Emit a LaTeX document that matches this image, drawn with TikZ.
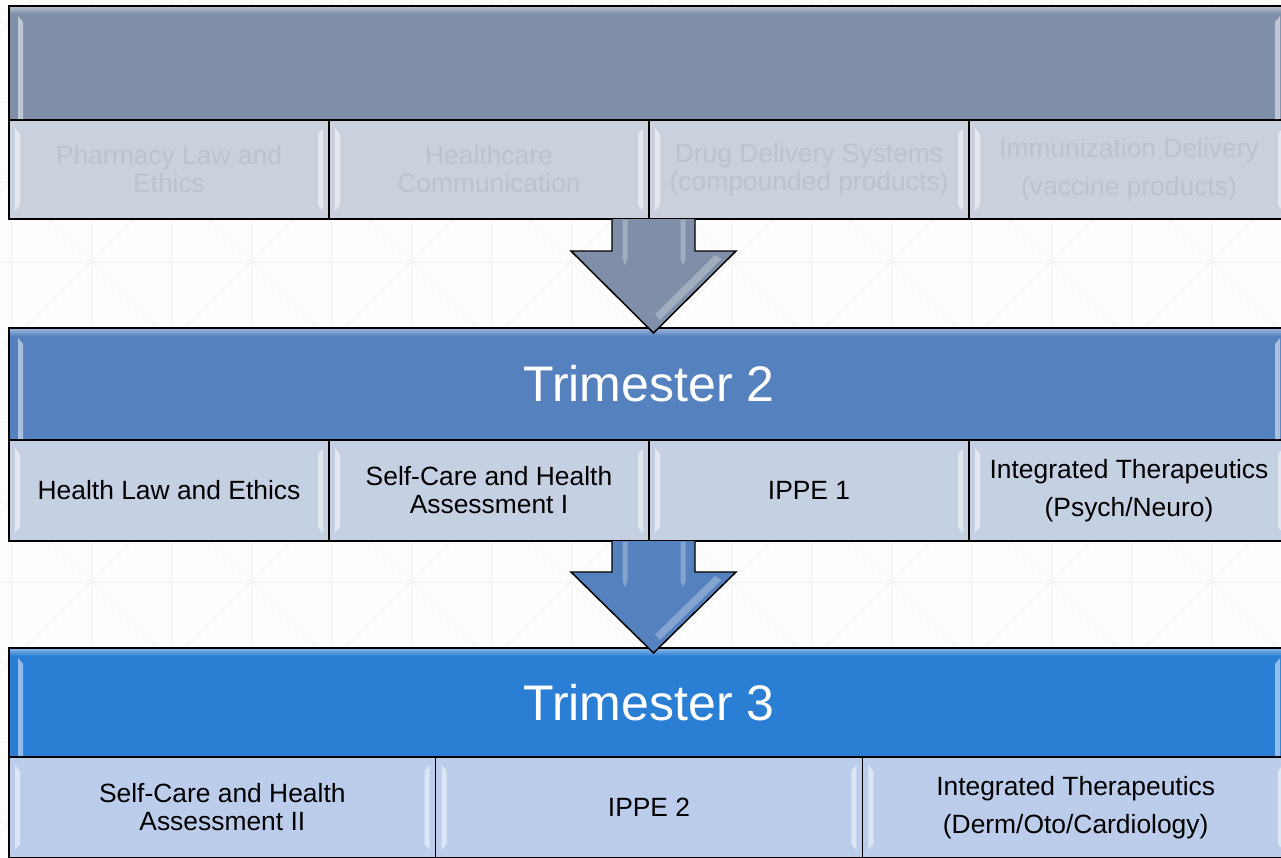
\documentclass[tikz,border=0pt]{standalone}
\usepackage{fontspec}
\setmainfont{Liberation Sans}
\usetikzlibrary{calc}
\definecolor{bgc}{HTML}{FDFDFD}
\definecolor{patc}{HTML}{F2F2F2}
\definecolor{hdrA}{HTML}{7F8EA9}
\definecolor{cellA}{HTML}{CAD0DC}
\definecolor{txtA}{HTML}{BCC3CF}
\definecolor{hdrB}{HTML}{5582BE}
\definecolor{cellB}{HTML}{C6D0E3}
\definecolor{hdrC}{HTML}{2A7ED3}
\definecolor{cellC}{HTML}{BBCDEA}
\tikzset{
  box/.style={draw=black, line width=1.1pt, rectangle, inner sep=0pt, outer sep=0pt, anchor=north west, align=center},
  hdr/.style={box, minimum width=960pt, text=white, font=\fontsize{37.5}{40}\selectfont},
  cell/.style={box, font=\fontsize{19.8}{21}\selectfont},
  wide/.style={font=\fontsize{19.8}{28.5}\selectfont},
  bevel/.style={fill=white, fill opacity=0.5},
  blockarrow/.style={draw=black, line width=1.1pt, line join=miter},
  shine/.style={fill=white, fill opacity=0.28},
  patline/.style={draw=patc, line width=0.75pt},
}
\begin{document}
\begin{tikzpicture}[x=0.75pt, y=-0.75pt]
\useasboundingbox (0,0) rectangle (1281,857);
\clip (0,0) rectangle (1281,857);
% background
\fill[bgc] (0,0) rectangle (1281,857);
\foreach \i in {0,...,16} \path[patline] ({11+80*\i},0) -- ({11+80*\i},857);
\foreach \j in {0,...,10} \path[patline] (0,{22+80*\j}) -- (1281,{22+80*\j});
\foreach \m in {-6,...,10} \path[patline] ({-171+160*\m},0) -- ({-171+160*\m+857},857);
\foreach \n in {-3,...,12} \path[patline] ({353+160*\n},0) -- ({353+160*\n-857},857);

% band 1
\node[hdr, fill=hdrA, minimum height=85.5pt] (h1) at (9,6) {};
\node[cell, fill=cellA, text=txtA, minimum width=240pt, minimum height=74.25pt] (c11) at (9,120) {Pharmacy Law and\\Ethics};
\node[cell, fill=cellA, text=txtA, minimum width=240pt, minimum height=74.25pt] (c12) at (329,120) {Healthcare\\Communication};
\node[cell, fill=cellA, text=txtA, minimum width=240pt, minimum height=74.25pt] (c13) at (649,120) {Drug Delivery Systems\\(compounded products)};
\node[cell, wide, fill=cellA, text=txtA, minimum width=240pt, minimum height=74.25pt] (c14) at (969,120) {Immunization Delivery\\(vaccine products)};

% band 2
\node[hdr, fill=hdrB, minimum height=84pt] (h2) at (9,328) {Trimester 2};
\node[cell, fill=cellB, minimum width=240pt, minimum height=75.75pt] (c21) at (9,440) {Health Law and Ethics};
\node[cell, fill=cellB, minimum width=240pt, minimum height=75.75pt] (c22) at (329,440) {Self-Care and Health\\Assessment I};
\node[cell, fill=cellB, minimum width=240pt, minimum height=75.75pt] (c23) at (649,440) {IPPE 1};
\node[cell, wide, fill=cellB, minimum width=240pt, minimum height=75.75pt] (c24) at (969,440) {Integrated Therapeutics\\(Psych/Neuro)};

% band 3
\node[hdr, fill=hdrC, minimum height=81.75pt] (h3) at (9,648) {Trimester 3};
\node[cell, fill=cellC, minimum width=320pt, minimum height=75.75pt] (c31) at (9,757) {Self-Care and Health\\Assessment II};
\node[cell, fill=cellC, minimum width=320pt, minimum height=75.75pt] (c32) at (435.67,757) {IPPE 2};
\node[cell, wide, fill=cellC, minimum width=320pt, minimum height=75.75pt] (c33) at (862.33,757) {Integrated Therapeutics\\(Derm/Oto/Cardiology)};

% header top sheen
\shade[top color=white!40!hdrA, bottom color=hdrA] ($(h1.north west)+(1,1)$) rectangle ($(h1.north east)+(-1,8)$);
\shade[top color=white!40!hdrB, bottom color=hdrB] ($(h2.north west)+(1,1)$) rectangle ($(h2.north east)+(-1,8)$);
\shade[top color=white!40!hdrC, bottom color=hdrC] ($(h3.north west)+(1,1)$) rectangle ($(h3.north east)+(-1,8)$);

% bevel strips
\foreach \n in {c11,c12,c13,c14,c21,c22,c23,c24,c31,c32,c33} {
  \fill[bevel] ($(\n.north west)+(6,8)$) -- ($(\n.north west)+(11,14)$) -- ($(\n.south west)+(11,-14)$) -- ($(\n.south west)+(6,-8)$) -- cycle;
  \fill[bevel] ($(\n.north east)+(-6,8)$) -- ($(\n.north east)+(-11,14)$) -- ($(\n.south east)+(-11,-14)$) -- ($(\n.south east)+(-6,-8)$) -- cycle;
}
\foreach \n in {h1,h2,h3} {
  \fill[bevel] ($(\n.north west)+(9,10)$) -- ($(\n.north west)+(14,16)$) -- ($(\n.south west)+(14,-1)$) -- ($(\n.south west)+(9,-1)$) -- cycle;
  \fill[bevel] ($(\n.north east)+(-9,10)$) -- ($(\n.north east)+(-14,16)$) -- ($(\n.south east)+(-14,-1)$) -- ($(\n.south east)+(-9,-1)$) -- cycle;
}

% arrow 1
\coordinate (a1) at ($(c12.south east)+(4.5,0)$);
\filldraw[blockarrow, fill=hdrA] ($(a1)+(-41.5,0)$) -- ++(0,32) -- ++(-41,0) -- ($(a1)+(0,114)$) -- ($(a1)+(82.5,32)$) -- ++(-41,0) -- ++(0,-32);
\fill[shine] ($(a1)+(-31,1)$) -- ($(a1)+(-26,1)$) -- ($(a1)+(-26,40)$) -- ($(a1)+(-28.5,46)$) -- ($(a1)+(-31,40)$) -- cycle;
\fill[shine] ($(a1)+(27,1)$) -- ($(a1)+(32,1)$) -- ($(a1)+(32,40)$) -- ($(a1)+(29.5,46)$) -- ($(a1)+(27,40)$) -- cycle;
\fill[shine] ($(a1)+(68,40)$) -- ($(a1)+(6.5,101)$) -- ($(a1)+(1.5,95.5)$) -- ($(a1)+(61.5,36)$) -- cycle;

% arrow 2
\coordinate (a2) at ($(c22.south east)+(4.5,0)$);
\filldraw[blockarrow, fill=hdrB] ($(a2)+(-41.5,0)$) -- ++(0,31) -- ++(-41,0) -- ($(a2)+(0,112)$) -- ($(a2)+(82.5,31)$) -- ++(-41,0) -- ++(0,-31);
\fill[shine] ($(a2)+(-31,1)$) -- ($(a2)+(-26,1)$) -- ($(a2)+(-26,40)$) -- ($(a2)+(-28.5,46)$) -- ($(a2)+(-31,40)$) -- cycle;
\fill[shine] ($(a2)+(27,1)$) -- ($(a2)+(32,1)$) -- ($(a2)+(32,40)$) -- ($(a2)+(29.5,46)$) -- ($(a2)+(27,40)$) -- cycle;
\fill[shine] ($(a2)+(68,39)$) -- ($(a2)+(6.5,99)$) -- ($(a2)+(1.5,93.5)$) -- ($(a2)+(61.5,35)$) -- cycle;
\end{tikzpicture}
\end{document}
